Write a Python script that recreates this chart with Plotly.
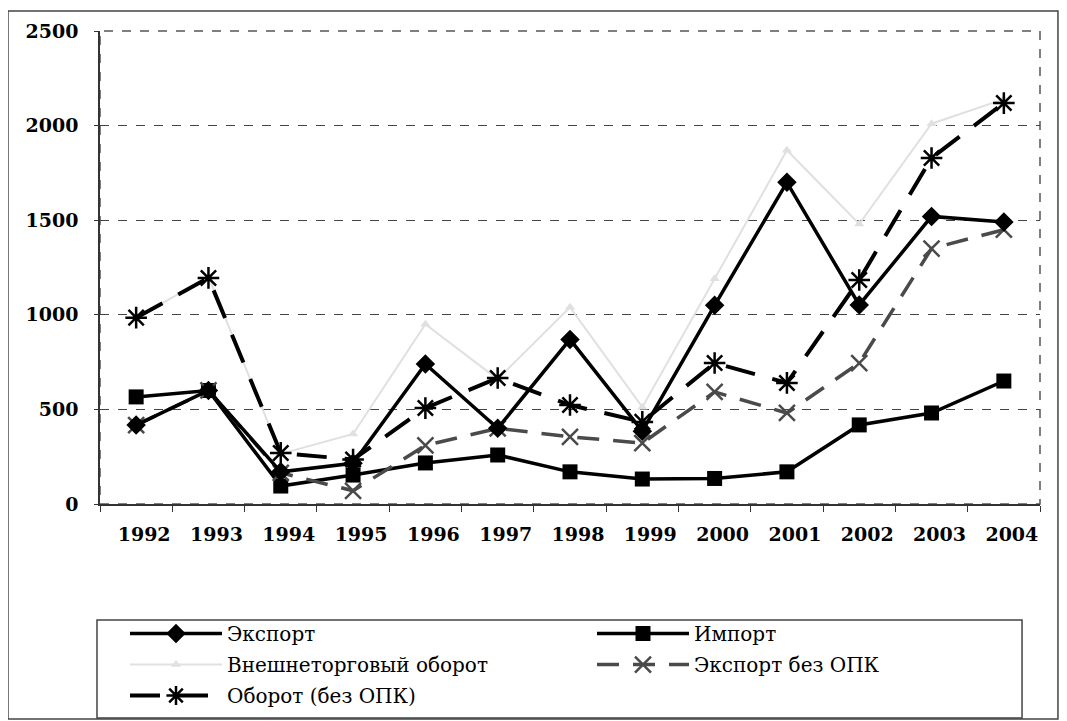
import plotly.graph_objects as go

years = ["1992", "1993", "1994", "1995", "1996", "1997", "1998", "1999", "2000", "2001", "2002", "2003", "2004"]
export = [417, 600, 170, 215, 740, 400, 870, 385, 1050, 1700, 1052, 1520, 1490]
imports = [566, 600, 95, 153, 217, 259, 170, 132, 135, 170, 418, 481, 650]
turnover = [983, 1200, 265, 370, 950, 660, 1040, 512, 1190, 1870, 1480, 2010, 2140]
export_no_opk = [417, 600, 165, 70, 310, 400, 355, 322, 592, 481, 745, 1350, 1450]
turnover_no_opk = [985, 1195, 270, 235, 507, 666, 523, 434, 745, 640, 1184, 1829, 2119]
y_ticks = [0, 500, 1000, 1500, 2000, 2500]

tick_font = "DejaVu Serif, serif"
legend_font = "DejaVu Serif, serif"

fig = go.Figure()

fig.add_trace(go.Scatter(
    x=years, y=turnover, name="Внешнеторговый оборот", mode="lines+markers",
    line=dict(color="#e0e0e0", width=2),
    marker=dict(symbol="triangle-up", size=9, color="#e0e0e0"),
    legend="legend", legendgroup="g2", legendrank=2,
))
fig.add_trace(go.Scatter(
    x=years, y=imports, name="Импорт", mode="lines+markers",
    line=dict(color="black", width=3.5),
    marker=dict(symbol="square", size=15, color="black"),
    legend="legend2", legendgroup="h1", legendrank=1,
))
fig.add_trace(go.Scatter(
    x=years, y=export_no_opk, name="Экспорт без ОПК", mode="lines+markers",
    line=dict(color="#4a4a4a", width=3.5, dash="22px,14px"),
    marker=dict(symbol="x-thin-open", size=16, line=dict(color="#333333", width=2.5)),
    legend="legend2", legendgroup="h2", legendrank=2,
))
fig.add_trace(go.Scatter(
    x=years, y=export, name="Экспорт", mode="lines+markers",
    line=dict(color="black", width=3.5),
    marker=dict(symbol="diamond", size=15, color="black"),
    legend="legend", legendgroup="g1", legendrank=1,
))
fig.add_trace(go.Scatter(
    x=years, y=turnover_no_opk, name="Оборот (без ОПК)", mode="lines+markers",
    line=dict(color="black", width=4, dash="30px,18px"),
    marker=dict(symbol="asterisk-open", size=18, line=dict(color="black", width=2.5)),
    legend="legend", legendgroup="g3", legendrank=3,
))

# outer chart frame, legend frame and dashed plot-area frame
fig.add_shape(type="rect", xref="paper", yref="paper", x0=-0.0979, x1=1.0191, y0=-0.4545, y1=1.0423,
              line=dict(color="#444444", width=1.5), layer="below")
fig.add_shape(type="rect", xref="paper", yref="paper", x0=-0.0032, x1=0.9809, y0=-0.4524, y1=-0.2452,
              line=dict(color="#444444", width=1.5), layer="below")
fig.add_shape(type="rect", xref="paper", yref="paper", x0=0, x1=1, y0=0, y1=1,
              line=dict(color="#555555", width=1.5, dash="dash"), layer="below")

legend_common = dict(
    orientation="v", yanchor="top", xanchor="left",
    borderwidth=0, bgcolor="rgba(0,0,0,0)",
    font=dict(family=legend_font, size=20, color="black"),
    itemwidth=92, traceorder="grouped", tracegroupgap=2,
)

fig.update_layout(
    width=1059, height=713,
    margin=dict(l=92, r=27, t=23, b=217, autoexpand=False),
    paper_bgcolor="white", plot_bgcolor="white",
    font=dict(family=legend_font, color="black"),
    showlegend=True,
    legend=dict(x=0.0266, y=-0.2326, **legend_common),
    legend2=dict(x=0.5234, y=-0.2326, **legend_common),
    xaxis=dict(
        type="category", categoryorder="array", categoryarray=years,
        range=[-0.5, len(years) - 0.5],
        showgrid=False, showline=True, linecolor="#333333", linewidth=1.5,
        ticks="outside", tickson="boundaries", ticklen=6, tickcolor="#333333",
        tickfont=dict(family=tick_font, size=19, color="black", weight="bold"),
        ticklabelshift=8, ticklabelstandoff=12,
        zeroline=False, automargin=False,
    ),
    yaxis=dict(
        range=[0, 2500], tickvals=y_ticks, ticktext=[str(v) for v in y_ticks],
        showgrid=True, gridcolor="#444444", gridwidth=1.2, griddash="dash",
        showline=True, linecolor="#333333", linewidth=1.5,
        ticks="outside", ticklen=4, tickcolor="#333333",
        tickfont=dict(family=tick_font, size=19, color="black", weight="bold"),
        ticklabelstandoff=12,
        zeroline=False, automargin=False,
    ),
)

fig.write_html("out.html")
